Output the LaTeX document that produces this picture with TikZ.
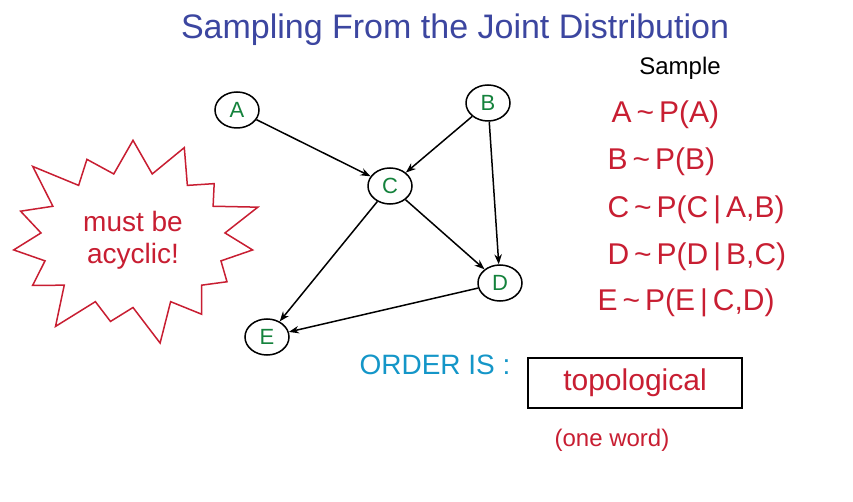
\documentclass[tikz,border=0pt]{standalone}
\usepackage{fontspec}
\setmainfont{Liberation Sans}
\usetikzlibrary{shapes.geometric,shapes.symbols,arrows.meta}
\definecolor{tblue}{RGB}{60,70,160}
\definecolor{tred}{RGB}{200,30,50}
\definecolor{tgreen}{RGB}{20,130,60}
\definecolor{tteal}{RGB}{20,150,200}
\newcommand{\fs}[1]{\fontsize{#1}{#1}\selectfont}
\newcommand{\tld}{\,\textasciitilde\,}
\begin{document}
\begin{tikzpicture}[x=1pt,y=-1pt,
  var/.style={ellipse,draw,line width=1.5pt,minimum width=44pt,minimum height=36pt,inner sep=1pt,text=tgreen,font=\fs{22}},
  edge/.style={line width=1.5pt,-{Stealth[length=10pt]}},
  eq/.style={text=tred,font=\fs{30},anchor=west}]
\useasboundingbox[fill=white] (0,0) rectangle (853,502);
\node[text=tblue,font=\fs{34}] (title) at (455,30) {Sampling From the Joint Distribution};
\node[var] (A) at (237,110) {A};
\node[var] (B) at (488,103) {B};
\node[var] (C) at (390,186) {C};
\node[var] (D) at (500,283) {D};
\node[var] (E) at (267,337) {E};
\draw[edge] (A) -- (C);
\draw[edge] (B) -- (C);
\draw[edge] (B) -- (D);
\draw[edge] (C) -- (D);
\draw[edge] (C) -- (E);
\draw[edge] (D) -- (E);
\node[font=\fs{24}] (sample) at (680,68) {Sample};
\node[eq] (e1) at (608,115) {A\tld P(A)};
\node[eq] (e2) at (604,162) {B\tld P(B)};
\node[eq] (e3) at (604,210) {C\tld P(C\,|\,A,B)};
\node[eq] (e4) at (604,257) {D\tld P(D\,|\,B,C)};
\node[eq] (e5) at (594,303) {E\tld P(E\,|\,C,D)};
\node[starburst,draw=tred,line width=1.5pt,text=tred,font=\fs{28},align=center,minimum width=275pt,minimum height=225pt,inner sep=0pt,starburst points=15,starburst point height=45pt] (star) at (133,240) {must be\\[4pt]acyclic!};
\node[text=tteal,font=\fs{28}] (order) at (435,365) {ORDER IS :};
\node[draw,line width=1.5pt,minimum width=214pt,minimum height=50pt,text=tred,font=\fs{30}] (ans) at (635,383) {topological};
\node[text=tred,font=\fs{24}] (hint) at (612,440) {(one word)};
\end{tikzpicture}
\end{document}
